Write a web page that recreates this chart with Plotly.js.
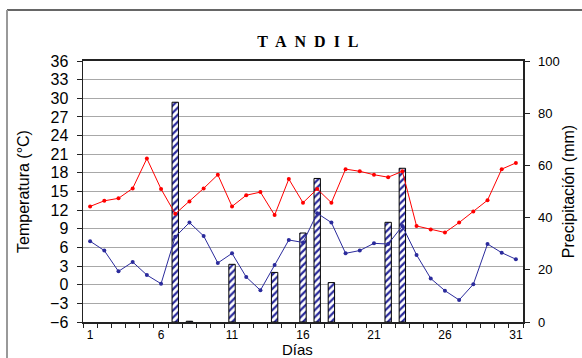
<!DOCTYPE html>
<html>
<head>
<meta charset="utf-8">
<script src="https://cdn.plot.ly/plotly-3.0.1.min.js"></script>
<style>html,body{margin:0;padding:0;background:#fff;}#chart{width:582px;height:358px;}</style>
</head>
<body>
<div id="chart"></div>
<script>
const days = [1,2,3,4,5,6,7,8,9,10,11,12,13,14,15,16,17,18,19,20,21,22,23,24,25,26,27,28,29,30,31];
const tMax = [12.6,13.5,13.9,15.5,20.3,15.4,11.4,13.4,15.5,17.7,12.6,14.4,14.9,11.2,17.0,13.2,15.4,13.2,18.6,18.25,17.7,17.3,18.25,9.45,8.9,8.4,10.0,11.8,13.6,18.6,19.6];
const tMin = [7.0,5.5,2.15,3.66,1.56,0.16,7.7,10.0,7.84,3.5,5.05,1.24,-0.9,3.17,7.2,6.8,11.5,10.0,5.05,5.5,6.66,6.55,9.45,4.8,1.0,-0.96,-2.46,0.07,6.55,5.15,4.1];
const precip = [null,null,null,null,null,null,84.2,0.3,null,null,22.1,null,null,19.0,null,34.1,55.0,15.1,null,null,null,38.2,58.9,null,null,null,null,null,null,null,null];
const xTickVals = [1,6,11,16,21,26,31];
const xTickText = ['1','6','11','16','21','26','31'];
const tempTicks = [-6,-3,0,3,6,9,12,15,18,21,24,27,30,33,36];
const precipTicks = [0,20,40,60,80,100];
const boundaries = [];
for (let i = 0; i <= days.length; i++) boundaries.push(days[0] - 0.5 + i);

const navy = '#2b2b9c';
const traces = [
  {
    type: 'bar', x: days, y: precip, yaxis: 'y', width: 0.45,
    marker: {color: 'white', line: {color: '#000', width: 1},
      pattern: {shape: '/', fgcolor: navy, bgcolor: 'white', size: 5, solidity: 0.45}},
    hoverinfo: 'skip', showlegend: false
  },
  {
    type: 'scatter', mode: 'lines+markers', x: days, y: tMax, yaxis: 'y2',
    line: {color: '#ff0000', width: 1}, marker: {color: '#ff0000', size: 4},
    showlegend: false
  },
  {
    type: 'scatter', mode: 'lines+markers', x: days, y: tMin, yaxis: 'y2',
    line: {color: navy, width: 1}, marker: {color: navy, size: 4},
    showlegend: false
  }
];

const layout = {
  width: 582, height: 358,
  margin: {l: 83, r: 59, t: 61, b: 36},
  paper_bgcolor: 'white', plot_bgcolor: 'white',
  font: {family: '"Liberation Sans", Arial, sans-serif', color: '#000'},
  showlegend: false,
  title: {text: '<b>T\u00a0 A\u00a0 N\u00a0 D\u00a0 I\u00a0 L</b>', font: {family: '"Liberation Serif", "Times New Roman", serif', size: 16, color: '#000'},
    x: 0.529, xanchor: 'center', xref: 'container', y: 0.883, yanchor: 'middle', yref: 'container'},
  xaxis: {
    range: [0.5, 31.5], tickmode: 'array', tickvals: xTickVals, ticktext: xTickText,
    ticks: '', showgrid: false, zeroline: false, ticklabelstandoff: 1,
    showline: true, linecolor: '#222', linewidth: 2, mirror: true,
    tickfont: {size: 12}, automargin: false,
    minor: {tickmode: 'array', tickvals: boundaries, ticks: 'outside', ticklen: 4, tickcolor: '#222', showgrid: false}
  },
  yaxis: {
    side: 'right', range: [0, 100], tickmode: 'array', tickvals: precipTicks,
    ticks: 'outside', ticklen: 5, tickcolor: '#222', showgrid: false, zeroline: false,
    showline: true, linecolor: '#222', linewidth: 1.5, ticklabelstandoff: 6,
    tickfont: {size: 13}, automargin: false,
    title: {text: 'Precipitación (mm)', font: {size: 16}, standoff: 4}
  },
  yaxis2: {
    overlaying: 'y', side: 'left', range: [-6, 36], tickmode: 'array', tickvals: tempTicks,
    ticks: 'outside', ticklen: 5, tickcolor: '#222', ticklabelstandoff: 5,
    showgrid: true, gridcolor: '#a8a8a8', gridwidth: 1, zeroline: false,
    showline: true, linecolor: '#222', linewidth: 1.5,
    tickfont: {size: 16}, automargin: false,
    title: {text: 'Temperatura (°C)', font: {size: 16}, standoff: 16}
  },
  annotations: [
    {text: 'Días', xref: 'paper', yref: 'paper', x: 214/440, y: -37/261, xanchor: 'center', yanchor: 'bottom',
      showarrow: false, font: {size: 15, color: '#000'}, borderpad: 0}
  ],
  shapes: [
    {type: 'line', xref: 'paper', yref: 'paper', x0: -76/440, x1: 1.2, y0: 1 + 51/261, y1: 1 + 51/261, line: {color: '#333', width: 1.5}},
    {type: 'line', xref: 'paper', yref: 'paper', x0: -76/440, x1: -76/440, y0: 1 + 51/261, y1: -0.2, line: {color: '#999', width: 2}}
  ]
};

Plotly.newPlot('chart', traces, layout, {displayModeBar: false, staticPlot: true});
</script>
</body>
</html>
